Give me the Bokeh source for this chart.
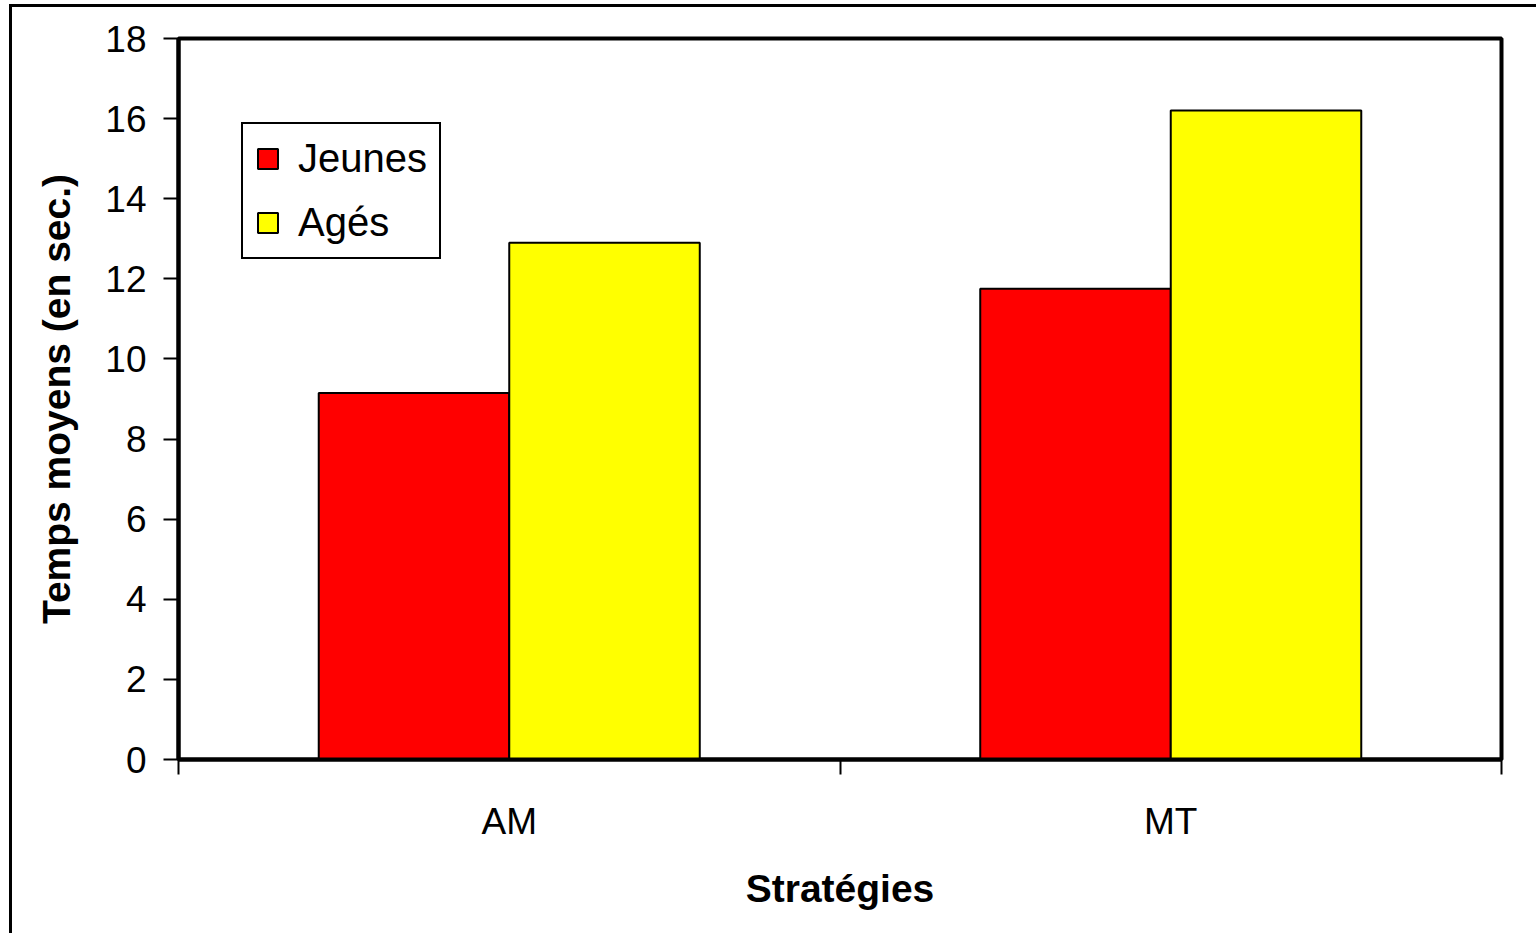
from bokeh.plotting import figure
from bokeh.models import Range1d, FixedTicker
from bokeh.embed import file_html
from bokeh.resources import INLINE
import numpy as np

# Mean times (seconds) per strategy and age group
strategies = ["AM", "MT"]
jeunes = [9.15, 11.75]
ages = [12.9, 16.2]
y_ticks = [0, 2, 4, 6, 8, 10, 12, 14, 16, 18]

FONT = "Liberation Sans"
BAR_W = 0.288

centers = np.arange(len(strategies)) + 0.5

p = figure(
    width=1527, height=929,
    output_backend="svg", toolbar_location=None,
    x_range=Range1d(0, len(strategies)), y_range=Range1d(0, 18),
    min_border_left=166, min_border_right=38,
    min_border_top=31, min_border_bottom=177,
)
p.styles = {
    "margin-left": "9px", "margin-top": "4px",
    "border-left": "3px solid black", "border-top": "3px solid black",
}

p.vbar(x=centers - BAR_W / 2, top=jeunes, width=BAR_W, bottom=0,
       fill_color="#ff0000", line_color="black", line_width=2,
       legend_label="Jeunes")
p.vbar(x=centers + BAR_W / 2, top=ages, width=BAR_W, bottom=0,
       fill_color="#ffff00", line_color="black", line_width=2,
       legend_label="Agés")

# Frame
p.outline_line_color = "black"
p.outline_line_width = 4
p.outline_line_alpha = 1
p.xgrid.visible = False
p.ygrid.visible = False
p.background_fill_color = "white"
p.border_fill_color = "white"

# X axis: labels at category centers, ticks at category boundaries
xa = p.xaxis[0]
xa.ticker = FixedTicker(ticks=list(centers),
                        minor_ticks=list(range(len(strategies) + 1)))
xa.major_label_overrides = {float(c): s for c, s in zip(centers, strategies)}
xa.major_tick_line_color = None
xa.major_tick_out = 0
xa.major_tick_in = 0
xa.minor_tick_line_color = "black"
xa.minor_tick_line_width = 2
xa.minor_tick_out = 15
xa.minor_tick_in = 0
xa.axis_line_color = "black"
xa.axis_line_width = 4
xa.major_label_text_font = FONT
xa.major_label_text_font_size = "37px"
xa.major_label_text_color = "black"
xa.major_label_standoff = 26
xa.axis_label = "Stratégies"
xa.axis_label_text_font = FONT
xa.axis_label_text_font_size = "39px"
xa.axis_label_text_font_style = "bold"
xa.axis_label_text_color = "black"
xa.axis_label_standoff = 22

# Y axis
ya = p.yaxis[0]
ya.ticker = FixedTicker(ticks=y_ticks, minor_ticks=[])
ya.major_tick_line_color = "black"
ya.major_tick_line_width = 2
ya.major_tick_out = 15
ya.major_tick_in = 0
ya.axis_line_color = "black"
ya.axis_line_width = 4
ya.major_label_text_font = FONT
ya.major_label_text_font_size = "37px"
ya.major_label_text_color = "black"
ya.major_label_standoff = 17
ya.axis_label = "Temps moyens (en sec.)"
ya.axis_label_text_font = FONT
ya.axis_label_text_font_size = "39px"
ya.axis_label_text_font_style = "bold"
ya.axis_label_text_color = "black"
ya.axis_label_standoff = 24

# Legend box
lg = p.legend[0]
lg.location = (63, 500)
lg.margin = 0
lg.padding = 12
lg.spacing = 19
lg.label_height = 42
lg.glyph_width = 25
lg.glyph_height = 25
lg.label_standoff = 18
lg.label_text_font = FONT
lg.label_text_font_size = "40px"
lg.label_text_color = "black"
lg.border_line_color = "black"
lg.border_line_width = 2
lg.border_line_alpha = 1
lg.background_fill_color = "white"
lg.background_fill_alpha = 1

open("out.html", "w").write(file_html(p, INLINE))
